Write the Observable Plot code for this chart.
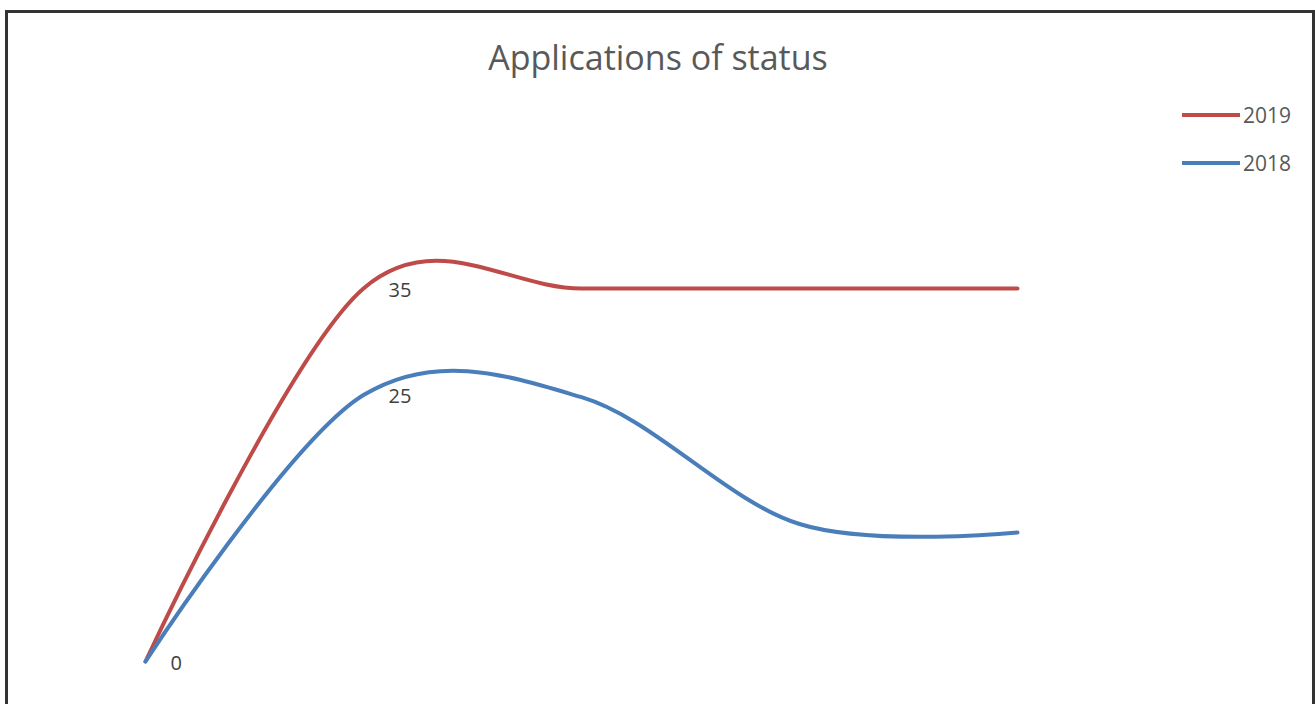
<!DOCTYPE html>
<html>
<head>
<meta charset="utf-8">
<script src="https://cdn.jsdelivr.net/npm/d3@7"></script>
<script src="https://cdn.jsdelivr.net/npm/@observablehq/plot@0.6"></script>
<style>
  html, body { margin: 0; padding: 0; background: #fff; }
  #wrap { position: relative; width: 1315px; height: 704px; overflow: hidden; font-family: "Open Sans", sans-serif; }
  #frame { position: absolute; left: 5px; top: 10px; width: 1310px; height: 720px; box-sizing: border-box; border: 3px solid #333; }
  #title { position: absolute; left: 0; width: 1316px; top: 40px; text-align: center; font-size: 34px; line-height: 34px; color: #595959; }
  #chart { position: absolute; left: 0; top: 0; }
  .leg { position: absolute; left: 1182px; height: 24px; display: flex; align-items: center; font-size: 21px; color: #595959; }
  .leg .sw { width: 58px; height: 4px; margin-right: 3px; }
</style>
</head>
<body>
<div id="wrap">
  <div id="frame"></div>
  <div id="chart"></div>
  <div id="title">Applications of status</div>
  <div id="legend"></div>
</div>
<script>
// Data
const categories = [0, 1, 2, 3, 4];
const seriesNames = ["2019", "2018"];
const values2019 = [0, 35, 35, 35, 35];
const values2018 = [0, 25, 24.8, 12.9, 12.1];
const labelledPoints = [0, 1];
const seriesColors = ["#BE4B48", "#4A7EBB"];

const rows = [];
categories.forEach((c, i) => {
  rows.push({cat: c, value: values2019[i], series: seriesNames[0]});
  rows.push({cat: c, value: values2018[i], series: seriesNames[1]});
});
const labelRows = rows.filter(d => labelledPoints.includes(d.cat) && !(d.cat === 0 && d.series === "2018"));

const chart = Plot.plot({
  width: 1315,
  height: 704,
  x: {domain: [0, 4], range: [145, 1017], axis: null},
  y: {domain: [0, 35], range: [661, 288], axis: null},
  color: {domain: seriesNames, range: seriesColors},
  marks: [
    Plot.line(rows, {x: "cat", y: "value", stroke: "series", z: "series", curve: "cardinal", tension: 0, strokeWidth: 4, strokeLinecap: "round"}),
    Plot.text(labelRows, {x: "cat", y: "value", text: d => String(d.value), dx: 25, dy: 2, textAnchor: "start", fill: "#404040", fontSize: 20, fontFamily: "Open Sans"})
  ],
  style: {background: "transparent", overflow: "visible"}
});
document.getElementById("chart").appendChild(chart);

// Legend
const legend = document.getElementById("legend");
const legendY = [103, 151];
seriesNames.forEach((name, i) => {
  const el = document.createElement("div");
  el.className = "leg";
  el.style.top = legendY[i] + "px";
  el.innerHTML = `<span class="sw" style="background:${seriesColors[i]}"></span><span>${name}</span>`;
  legend.appendChild(el);
});
</script>
</body>
</html>
